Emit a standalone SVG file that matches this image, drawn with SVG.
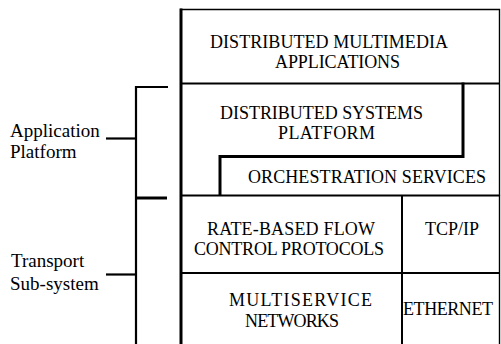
<svg xmlns="http://www.w3.org/2000/svg" width="501" height="344" viewBox="0 0 501 344">
<style>
.box{fill:none;stroke:#000;stroke-width:2}
.thick{fill:none;stroke:#000;stroke-width:3}
.thin{fill:none;stroke:#000;stroke-width:1.4}
.conn{fill:none;stroke:#000;stroke-width:2.2}
</style>
<rect width="501" height="344" fill="#fff"/>
<g id="apps">
<path class="thin" d="M180,9.5 H499.5 V83.5"/>
<text font-family="Liberation Serif" font-size="18" x="210" y="48" textLength="238">DISTRIBUTED MULTIMEDIA</text>
<text font-family="Liberation Serif" font-size="18" x="275" y="68" textLength="125">APPLICATIONS</text>
</g>
<g id="dsp">
<path class="box" d="M180,83.5 H463"/>
<path class="thick" d="M463,82.5 V156.5 H220"/>
<text font-family="Liberation Serif" font-size="18" x="220" y="119" textLength="203">DISTRIBUTED SYSTEMS</text>
<text font-family="Liberation Serif" font-size="18" x="278" y="139" textLength="97">PLATFORM</text>
</g>
<g id="orch">
<path class="box" d="M463,83.5 H500"/>
<path class="thin" d="M499.5,83.5 V196"/>
<path class="thick" d="M220,155 V196"/>
<text font-family="Liberation Serif" font-size="18" x="248" y="183" textLength="238">ORCHESTRATION SERVICES</text>
</g>
<g id="rate">
<path class="box" d="M180,195.5 H500"/>
<path class="box" d="M402,195 V273"/>
<text font-family="Liberation Serif" font-size="18" x="207" y="235" textLength="168">RATE-BASED FLOW</text>
<text font-family="Liberation Serif" font-size="18" x="194" y="255" textLength="190">CONTROL PROTOCOLS</text>
</g>
<g id="tcpip">
<path class="thin" d="M499.5,195.5 V273"/>
<text font-family="Liberation Serif" font-size="18" x="425" y="235" textLength="54">TCP/IP</text>
</g>
<g id="multiservice">
<path class="box" d="M180,273 H500"/>
<path class="box" d="M402,273 V344"/>
<text font-family="Liberation Serif" font-size="18" x="229" y="306" textLength="143">MULTISERVICE</text>
<text font-family="Liberation Serif" font-size="18" x="245" y="327" textLength="94">NETWORKS</text>
</g>
<g id="ethernet">
<path class="thin" d="M499.5,273 V344"/>
<text font-family="Liberation Serif" font-size="18" x="403" y="315" textLength="90">ETHERNET</text>
</g>
<path class="thick" d="M181,8.5 V344"/>
<g id="application-platform">
<text font-family="Liberation Serif" font-size="19" x="10" y="137">Application</text>
<text font-family="Liberation Serif" font-size="19" x="10" y="158">Platform</text>
</g>
<g id="transport-subsystem">
<text font-family="Liberation Serif" font-size="19" x="11" y="267">Transport</text>
<text font-family="Liberation Serif" font-size="19" x="10" y="290">Sub-system</text>
</g>
<g id="connectors">
<path class="conn" d="M168,87 H136 V344"/>
<path class="thick" d="M137,198 H167"/>
<path class="conn" d="M106,138.5 H136"/>
<path class="conn" d="M106,274.5 H136"/>
</g>
</svg>
